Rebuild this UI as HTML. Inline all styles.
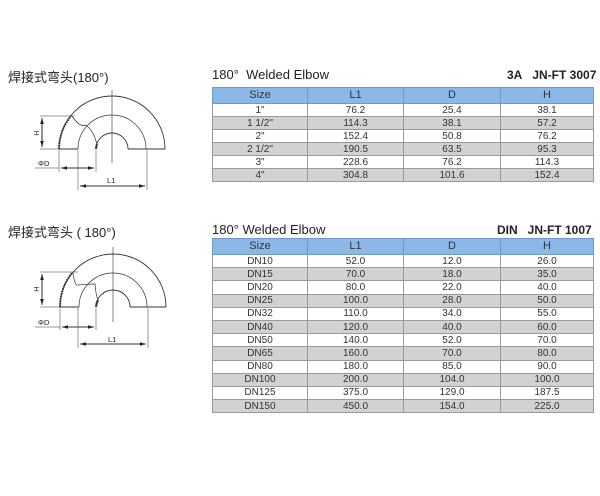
<!DOCTYPE html>
<html><head><meta charset="utf-8"><style>
body{margin:0;width:600px;height:496px;background:#fff;position:relative;overflow:hidden;font-family:"Liberation Sans","Noto Sans CJK SC",sans-serif;}
.t{position:absolute;font-size:12.5px;color:#222;white-space:nowrap;}
.b{font-weight:bold;font-size:12px;}
table{position:absolute;border-collapse:collapse;table-layout:fixed;font-size:10px;color:#333;}
td{border:1px solid #9a9a9a;text-align:center;padding:0;overflow:hidden;line-height:11px;}
tr.h td{background:#8cb8e8;border-color:#6f9acb;font-size:11px;color:#333;}
tr.g td{background:#d2d2d2;}
svg{position:absolute;left:0;top:0;}
</style></head><body>
<div class="t" style="left:8px;top:67px;font-size:13px">焊接式弯头(180°)</div>
<div class="t" style="left:212px;top:67px;font-size:13px">180°&nbsp; Welded Elbow</div>
<div class="t b" style="left:507px;top:68px">3A&nbsp;&nbsp; JN-FT 3007</div>
<table style="left:212px;top:87px;width:381px">
<colgroup><col style="width:95px"><col style="width:96px"><col style="width:97px"><col style="width:93px"></colgroup>
<tr class="h" style="height:16px"><td>Size</td><td>L1</td><td>D</td><td>H</td></tr>
<tr style="height:13px"><td>1"</td><td>76.2</td><td>25.4</td><td>38.1</td></tr>
<tr class="g" style="height:13px"><td>1 1/2"</td><td>114.3</td><td>38.1</td><td>57.2</td></tr>
<tr style="height:13px"><td>2"</td><td>152.4</td><td>50.8</td><td>76.2</td></tr>
<tr class="g" style="height:13px"><td>2 1/2"</td><td>190.5</td><td>63.5</td><td>95.3</td></tr>
<tr style="height:13px"><td>3"</td><td>228.6</td><td>76.2</td><td>114.3</td></tr>
<tr class="g" style="height:13px"><td>4"</td><td>304.8</td><td>101.6</td><td>152.4</td></tr>
</table>

<div class="t" style="left:8px;top:222px;font-size:13px">焊接式弯头 ( 180°)</div>
<div class="t" style="left:212px;top:222px;font-size:13px">180° Welded Elbow</div>
<div class="t b" style="left:497px;top:223px">DIN&nbsp;&nbsp; JN-FT 1007</div>
<table style="left:212px;top:238px;width:381px">
<colgroup><col style="width:95px"><col style="width:96px"><col style="width:97px"><col style="width:93px"></colgroup>
<tr class="h" style="height:16px"><td>Size</td><td>L1</td><td>D</td><td>H</td></tr>
<tr style="height:13.2px"><td>DN10</td><td>52.0</td><td>12.0</td><td>26.0</td></tr>
<tr class="g" style="height:13.2px"><td>DN15</td><td>70.0</td><td>18.0</td><td>35.0</td></tr>
<tr style="height:13.2px"><td>DN20</td><td>80.0</td><td>22.0</td><td>40.0</td></tr>
<tr class="g" style="height:13.2px"><td>DN25</td><td>100.0</td><td>28.0</td><td>50.0</td></tr>
<tr style="height:13.2px"><td>DN32</td><td>110.0</td><td>34.0</td><td>55.0</td></tr>
<tr class="g" style="height:13.2px"><td>DN40</td><td>120.0</td><td>40.0</td><td>60.0</td></tr>
<tr style="height:13.2px"><td>DN50</td><td>140.0</td><td>52.0</td><td>70.0</td></tr>
<tr class="g" style="height:13.2px"><td>DN65</td><td>160.0</td><td>70.0</td><td>80.0</td></tr>
<tr style="height:13.2px"><td>DN80</td><td>180.0</td><td>85.0</td><td>90.0</td></tr>
<tr class="g" style="height:13.2px"><td>DN100</td><td>200.0</td><td>104.0</td><td>100.0</td></tr>
<tr style="height:13.2px"><td>DN125</td><td>375.0</td><td>129.0</td><td>187.5</td></tr>
<tr class="g" style="height:13.2px"><td>DN150</td><td>450.0</td><td>154.0</td><td>225.0</td></tr>
</table>

<svg width="600" height="496" viewBox="0 0 600 496" font-family="Liberation Sans, sans-serif">
<defs><marker id="a" viewBox="0 0 10 6" refX="10" refY="3" markerWidth="8" markerHeight="4" orient="auto-start-reverse"><path d="M0,0L10,3L0,6z" fill="#222"/></marker></defs>
<g fill="none" stroke="#333" stroke-width="0.9">
<!-- diagram 1 -->
<path d="M59,149 A53,53 0 0 1 165,149"/>
<path d="M78,149 A34,34 0 0 1 146,149" stroke-width="0.7"/>
<path d="M96,149 A16,16 0 0 1 128,149"/>
<path d="M59,149 H78 M128,149 H165" />
<path d="M59,149 A53,53 0 0 1 71,116" stroke-width="2" stroke-dasharray="1.5,1"/>
<path d="M96,149 A16,16 0 0 1 97,144" stroke-width="2"/>
<path d="M72,116 Q80,128 86,125 Q93,130 97,144" stroke-width="0.7"/>
<path d="M112,90 V163" stroke-width="0.6"/>
<path d="M40,116 H75 M40,149 H59" stroke-width="0.5"/>
<path d="M42,118 V147" stroke="#111" marker-start="url(#a)" marker-end="url(#a)"/>
<path d="M59,150 V172 M96,150 V172 M78,150 V190 M147,150 V190" stroke-width="0.5"/>
<path d="M35,168 H59" stroke-width="0.5"/>
<path d="M61,168 H94" marker-start="url(#a)" marker-end="url(#a)"/>
<path d="M80,186 H145" marker-start="url(#a)" marker-end="url(#a)"/>
<!-- diagram 2 -->
<path d="M60,307 A53,53 0 0 1 166,307"/>
<path d="M79,307 A34,34 0 0 1 147,307" stroke-width="0.7"/>
<path d="M96,307 A17,17 0 0 1 130,307"/>
<path d="M60,307 H79 M130,307 H166"/>
<path d="M60,307 A53,53 0 0 1 72,273" stroke-width="2" stroke-dasharray="1.5,1"/>
<path d="M96,307 A17,17 0 0 1 98,300" stroke-width="2"/>
<path d="M73,273 Q75,287 78,285 Q90,284 95,284 Q96,296 98,300" stroke-width="0.7"/>
<path d="M113,247 V322" stroke-width="0.6"/>
<path d="M40,272 H78 M40,307 H60" stroke-width="0.5"/>
<path d="M42,274 V305" stroke="#111" marker-start="url(#a)" marker-end="url(#a)"/>
<path d="M60,308 V330 M96,308 V330 M78,308 V348 M148,308 V348" stroke-width="0.5"/>
<path d="M35,327 H60" stroke-width="0.5"/>
<path d="M62,327 H94" marker-start="url(#a)" marker-end="url(#a)"/>
<path d="M80,344 H146" marker-start="url(#a)" marker-end="url(#a)"/>
</g>
<g font-size="7.5" fill="#222">
<text x="36" y="136" transform="rotate(-90 36 133)" text-anchor="middle">H</text>
<text x="38" y="166">ΦD</text>
<text x="107" y="183">L1</text>
<text x="36" y="292" transform="rotate(-90 36 289)" text-anchor="middle">H</text>
<text x="38" y="325">ΦD</text>
<text x="108" y="342">L1</text>
</g>
</svg>
</body></html>
